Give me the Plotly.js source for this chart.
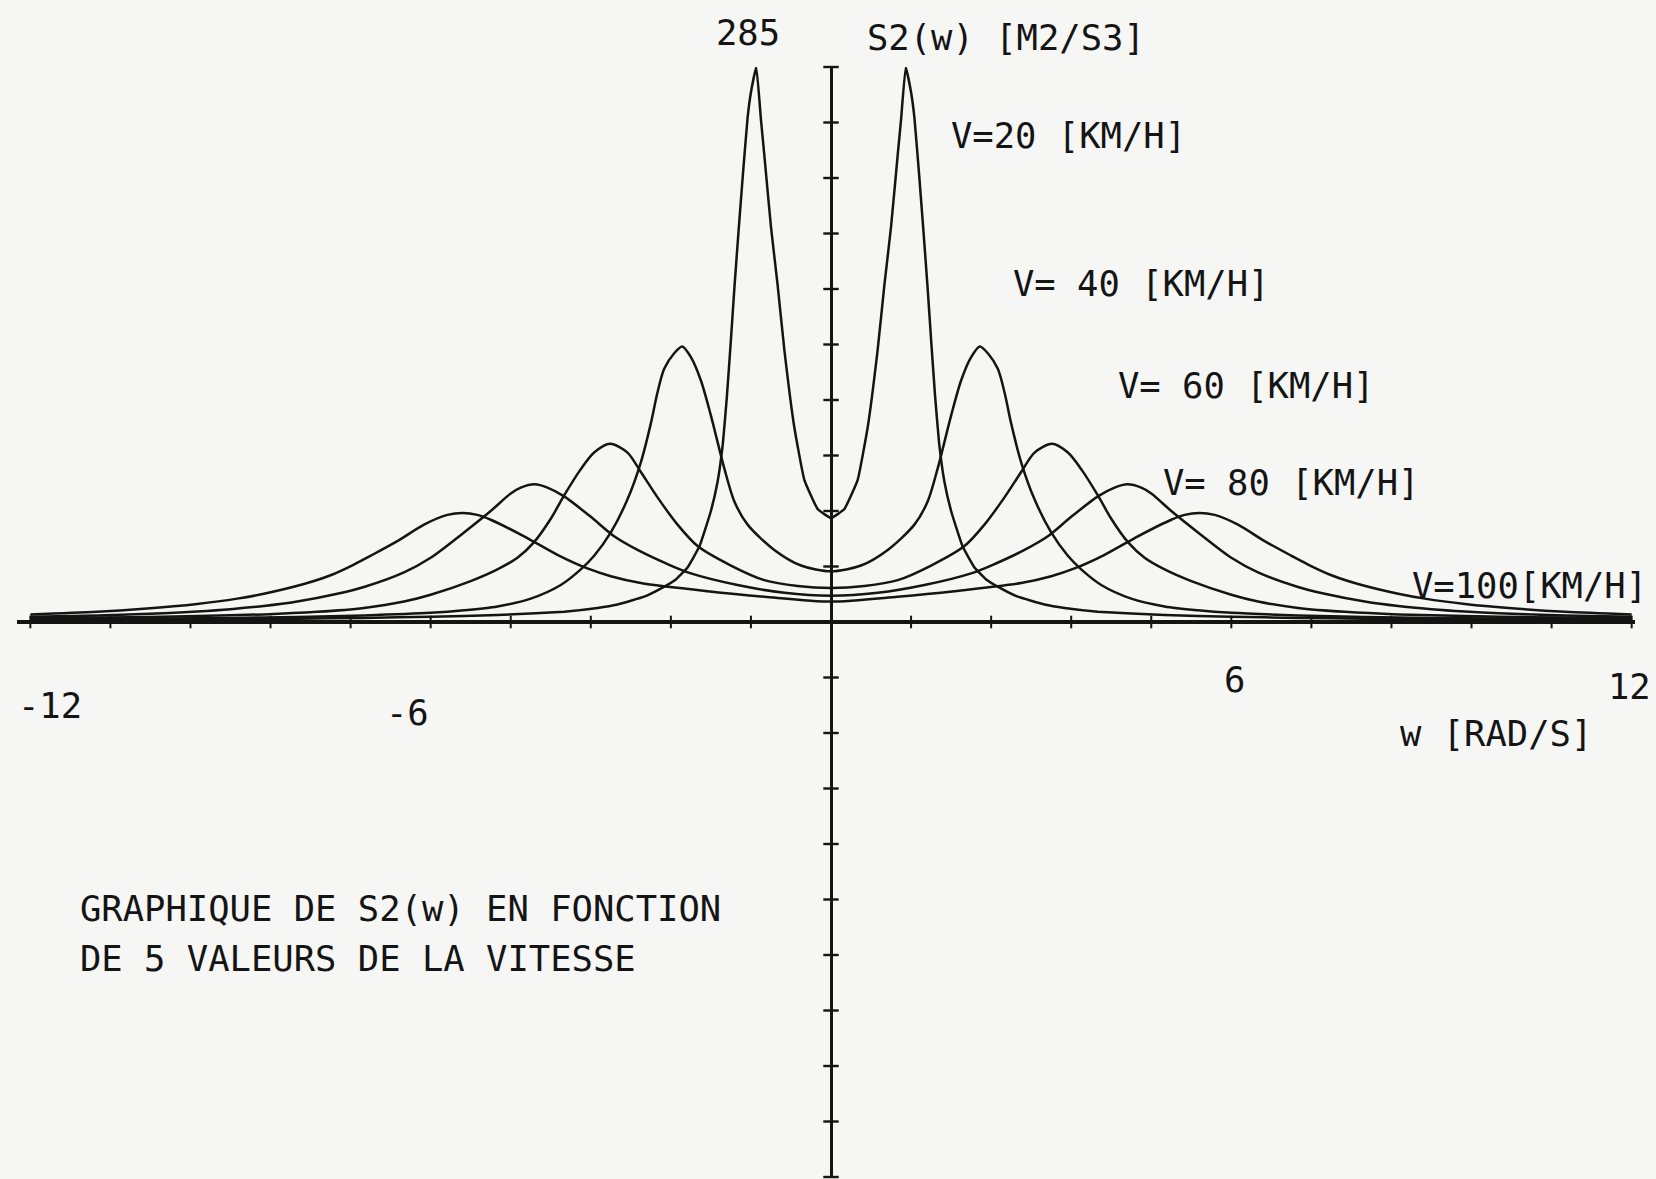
<!DOCTYPE html>
<html><head><meta charset="utf-8">
<script src="https://cdn.plot.ly/plotly-3.0.1.min.js"></script>
<style>html,body{margin:0;padding:0;background:#f6f6f4}</style>
</head><body>
<div id="chart" style="width:1656px;height:1179px"></div>
<script>
// ---- data: w [rad/s] and S2(w) [m2/s3] ----
const w20 = [-12,-11,-10,-9,-8,-7,-6,-5,-4,-3.5,-3.2,-2.8,-2.56,-2.32,-2.15,-1.97,-1.8,-1.7,-1.62,-1.56,-1.5,-1.445,-1.385,-1.32,-1.25,-1.2,-1.12,-1.05,-1.0,-0.9,-0.8,-0.7,-0.55,-0.4,-0.2,
  0,0.2,0.4,0.55,0.7,0.8,0.9,1.0,1.05,1.12,1.2,1.25,1.32,1.385,1.445,1.5,1.56,1.62,1.7,1.8,1.97,2.15,2.32,2.56,2.8,3.2,3.5,4,5,6,7,8,9,10,11,12];
const s20 = [1.0,1.1,1.2,1.4,1.7,2.1,2.7,3.6,5.3,7.2,9,13,17,22,28,39,57,72,92,116,145,173,201,230,259,272,285,258,240,203,173,140,100,73,58,
  53.4,58,73,100,140,173,203,240,258,285,272,259,230,201,173,145,116,92,72,57,39,28,22,17,13,9,7.2,5.3,3.6,2.7,2.1,1.7,1.4,1.2,1.1,1.0];

const w40 = [-12,-11,-10,-9,-8,-7,-6,-5.5,-5,-4.5,-4.05,-3.75,-3.55,-3.3,-3.05,-2.85,-2.7,-2.6,-2.5,-2.35,-2.23,-2.1,-1.95,-1.8,-1.6,-1.45,-1.25,-0.85,-0.45,
  0,0.45,0.85,1.25,1.45,1.6,1.8,1.95,2.1,2.23,2.35,2.5,2.6,2.7,2.85,3.05,3.3,3.55,3.75,4.05,4.5,5,5.5,6,7,8,9,10,11,12];
const s40 = [1.3,1.5,1.8,2.1,2.6,3.4,4.7,6,8,12,19,27,34,46,63,82,102,118,130,138,141.5,136,124,106,79,62,50,37,29,
  26,29,37,50,62,79,106,124,136,141.5,138,130,118,102,82,63,46,34,27,19,12,8,6,4.7,3.4,2.6,2.1,1.8,1.5,1.3];

const w60 = [-12,-10.5,-9.5,-8.5,-7.7,-7,-6.4,-6.0,-5.4,-5.0,-4.7,-4.45,-4.2,-4.0,-3.76,-3.55,-3.31,-3.05,-2.85,-2.6,-2.3,-2.0,-1.5,-1.0,-0.5,
  0,0.5,1.0,1.5,2.0,2.3,2.6,2.85,3.05,3.31,3.55,3.76,4.0,4.2,4.45,4.7,5.0,5.4,6.0,6.4,7,7.7,8.5,9.5,10.5,12];
const s60 = [2,2.5,3.1,3.9,5.2,7.2,10.5,14,21,27,33,41,53,65,78,87,91.5,87,77,64,50,39,29,21.5,18.5,
  17.5,18.5,21.5,29,39,50,64,77,87,91.5,87,78,65,53,41,33,27,21,14,10.5,7.2,5.2,3.9,3.1,2.5,2];

const w80 = [-12,-11,-10,-9.5,-9,-8.5,-8,-7.4,-7.0,-6.4,-6.0,-5.5,-5.1,-4.8,-4.65,-4.44,-4.25,-4.0,-3.6,-3.25,-2.9,-2.4,-2.1,-1.4,-0.7,
  0,0.7,1.4,2.1,2.4,2.9,3.25,3.6,4.0,4.25,4.44,4.65,4.8,5.1,5.5,6.0,6.4,7.0,7.4,8,8.5,9,9.5,10,11,12];
const s80 = [2.7,3.4,4.5,5.4,6.6,8.2,10.5,14.5,18,25.5,33,46,57,66,69,70.7,69,64.5,54,44,37,29,25,19,15,
  13.5,15,19,25,29,37,44,54,64.5,69,70.7,69,66,57,46,33,25.5,18,14.5,10.5,8.2,6.6,5.4,4.5,3.4,2.7];

const w100 = [-12,-11,-10.3,-9.5,-8.9,-8.5,-7.9,-7.5,-7.15,-6.9,-6.5,-6.1,-5.75,-5.52,-5.3,-5.1,-4.6,-4.1,-3.65,-3.3,-2.85,-1.85,-1.0,
  0,1.0,1.85,2.85,3.3,3.65,4.1,4.6,5.1,5.3,5.52,5.75,6.1,6.5,6.9,7.15,7.5,7.9,8.5,8.9,9.5,10.3,11,12];
const s100 = [3.8,5.2,6.8,9.3,12,14.5,19.5,24,29.5,34,41.5,50,55,56,55,52.5,44,34.5,27.5,23.5,20,15.8,13,
  10.5,13,15.8,20,23.5,27.5,34.5,44,52.5,55,56,55,50,41.5,34,29.5,24,19.5,14.5,12,9.3,6.8,5.2,3.8];

const seriesW = [w20, w40, w60, w80, w100];
const seriesS = [s20, s40, s60, s80, s100];
const seriesNames = ['V=20 [KM/H]', 'V= 40 [KM/H]', 'V= 60 [KM/H]', 'V= 80 [KM/H]', 'V=100[KM/H]'];

// axis tick marks (value units)
const xTickVals = [-12,-10.8,-9.6,-8.4,-7.2,-6,-4.8,-3.6,-2.4,-1.2,1.2,2.4,3.6,4.8,6,7.2,8.4,9.6,10.8,12];
const yTickVals = [-285,-256.5,-228,-199.5,-171,-142.5,-114,-85.5,-57,-28.5,28.5,57,85.5,114,142.5,171,199.5,228,256.5,285];
const xTickLabels = ['-12', '-6', '6', '12'];
const yMaxLabel = '285';
const yTitle = 'S2(w) [M2/S3]';
const xTitle = 'w [RAD/S]';
const caption = ['GRAPHIQUE DE S2(w) EN FONCTION', 'DE 5 VALEURS DE LA VITESSE'];

const ink = '#141414';
const FONT = '"DejaVu Sans Mono", "Liberation Mono", monospace';

const traces = seriesW.map((w, i) => ({
  x: w, y: seriesS[i], name: seriesNames[i], type: 'scatter', mode: 'lines',
  line: {color: ink, width: 2.5, shape: 'spline', smoothing: i === 0 ? 0.35 : 0.8},
  hoverinfo: 'skip'
}));
traces.push({
  x: xTickVals, y: xTickVals.map(() => 0), type: 'scatter', mode: 'markers',
  marker: {symbol: 'line-ns', size: 9, line: {width: 2, color: ink}}, hoverinfo: 'skip', cliponaxis: false
});
traces.push({
  x: yTickVals.map(() => 0), y: yTickVals, type: 'scatter', mode: 'markers',
  marker: {symbol: 'line-ew', size: 11, line: {width: 2.4, color: ink}}, hoverinfo: 'skip', cliponaxis: false
});

const tf = {family: FONT, size: 35.5, color: ink};
function annD(text, x, y, xanchor) {
  return {text: text, x: x, y: y, xref: 'x', yref: 'y', xanchor: xanchor || 'left', yanchor: 'middle',
          showarrow: false, font: tf, borderpad: 0};
}
function annP(text, x, y, xanchor) {
  return {text: text, x: x, y: y, xref: 'paper', yref: 'paper', xanchor: xanchor || 'left', yanchor: 'middle',
          showarrow: false, font: tf, borderpad: 0};
}
const annotations = [
  annP(yMaxLabel, 0.4518, 1.0315, 'center'),
  annP(yTitle, 0.5247, 1.027),
  annD(seriesNames[0], 1.78, 250),
  annD(seriesNames[1], 2.71, 174),
  annD(seriesNames[2], 4.29, 121.7),
  annD(seriesNames[3], 4.96, 71.4),
  annD(seriesNames[4], 8.7, 18.5),
  annP(xTickLabels[0], 0.0, 0.4252),
  annD(xTickLabels[1], -6.69, -46.7),
  annD(xTickLabels[2], 6.04, -29.3, 'center'),
  annP(xTickLabels[3], 0.9825, 0.4423),
  annD(xTitle, 8.52, -57.5),
  annD(caption[0], -11.27, -146.9),
  annD(caption[1], -11.27, -173)
];

const layout = {
  width: 1656, height: 1179,
  margin: {l: 17, r: 21, t: 67, b: 2, pad: 0},
  paper_bgcolor: '#f6f6f4', plot_bgcolor: '#f6f6f4',
  showlegend: false, hovermode: false,
  xaxis: {range: [-12.2, 12.05], showgrid: false, zeroline: true, zerolinecolor: ink, zerolinewidth: 3,
          showticklabels: false, ticks: '', showline: false, fixedrange: true},
  yaxis: {range: [-285, 285], showgrid: false, zeroline: true, zerolinecolor: ink, zerolinewidth: 3.2,
          showticklabels: false, ticks: '', showline: false, fixedrange: true},
  annotations: annotations
};

Plotly.newPlot('chart', traces, layout, {staticPlot: true, displayModeBar: false});
</script>
</body></html>
